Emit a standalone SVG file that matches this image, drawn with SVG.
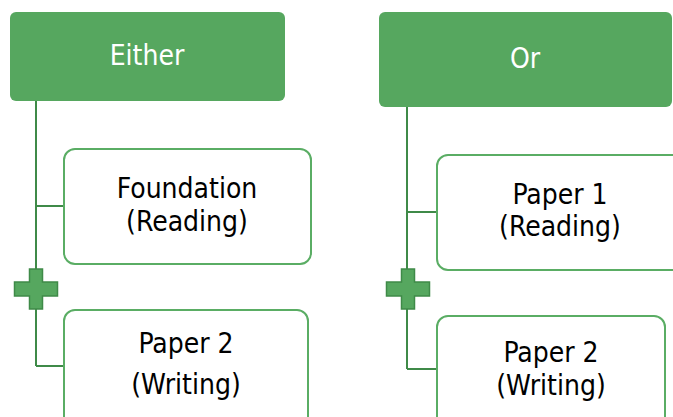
<svg xmlns="http://www.w3.org/2000/svg" width="673" height="417" viewBox="0 0 673 417">
<defs>
<style>
.hdr{fill:#56a75f;}
.box{fill:#ffffff;stroke:#5aad64;stroke-width:2;}
.ln{fill:none;stroke:#3f8a48;stroke-width:2;}
.plus{fill:#56a75f;stroke:#3f8a48;stroke-width:1.5;}
.ht{font-family:"DejaVu Sans Condensed","DejaVu Sans",sans-serif;font-stretch:condensed;font-size:28px;fill:#ffffff;text-anchor:middle;}
.bt{font-family:"DejaVu Sans Condensed","DejaVu Sans",sans-serif;font-stretch:condensed;font-size:28px;fill:#000000;text-anchor:middle;}
</style>
<path id="cross" d="M-6.5,-20 H6.5 V-7 H21.5 V7 H6.5 V20 H-6.5 V7 H-21.5 V-7 H-6.5 Z"/>
</defs>
<rect width="673" height="417" fill="#ffffff"/>
<g id="connectors">
<path class="ln" d="M36,101 V366 M36,206 H64 M36,366 H64"/>
<path class="ln" d="M407,107 V369 M407,212 H437 M407,369 H437"/>
</g>
<g id="either">
<rect class="hdr" x="10" y="12" width="275" height="89" rx="6"/>
<text class="ht" x="147" y="65">Either</text>
</g>
<g id="foundation">
<rect class="box" x="64" y="149" width="247" height="115" rx="11"/>
<text class="bt" x="187" y="198">Foundation</text>
<text class="bt" x="187" y="231">(Reading)</text>
</g>
<g id="plus-left">
<use href="#cross" class="plus" transform="translate(36,289)"/>
</g>
<g id="paper2-left">
<rect class="box" x="64" y="310" width="244" height="120" rx="11"/>
<text class="bt" x="186" y="353">Paper 2</text>
<text class="bt" x="186" y="394">(Writing)</text>
</g>
<g id="or">
<rect class="hdr" x="379" y="12" width="293" height="95" rx="6"/>
<text class="ht" x="525" y="68">Or</text>
</g>
<g id="paper1">
<rect class="box" x="437" y="155" width="260" height="115" rx="11"/>
<text class="bt" x="560" y="204">Paper 1</text>
<text class="bt" x="560" y="236">(Reading)</text>
</g>
<g id="plus-right">
<use href="#cross" class="plus" transform="translate(408,289)"/>
</g>
<g id="paper2-right">
<rect class="box" x="437" y="316" width="228" height="115" rx="11"/>
<text class="bt" x="551" y="362">Paper 2</text>
<text class="bt" x="551" y="395">(Writing)</text>
</g>
</svg>
